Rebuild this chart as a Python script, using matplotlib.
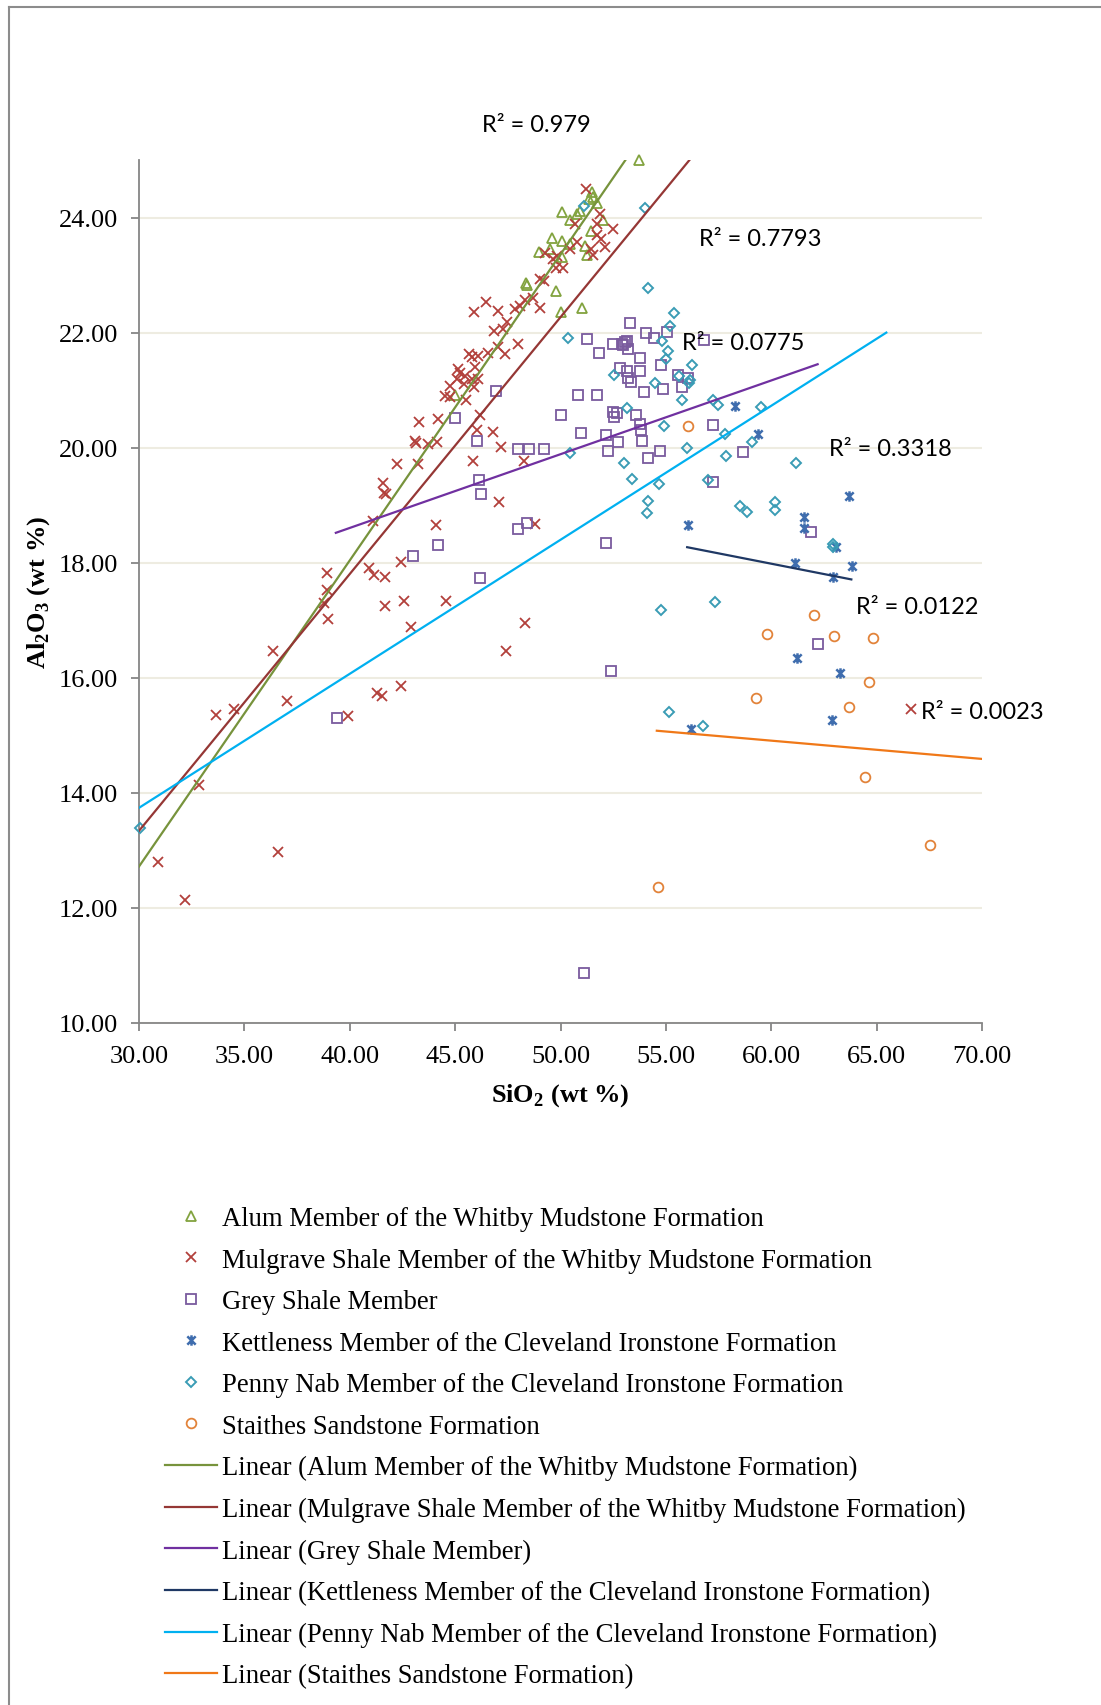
import matplotlib
matplotlib.use("Agg")
import matplotlib.pyplot as plt
from matplotlib.lines import Line2D
from matplotlib.path import Path

plt.rcParams['font.family'] = ['Liberation Serif', 'DejaVu Serif']
plt.rcParams['mathtext.fontset'] = 'custom'
plt.rcParams['mathtext.rm'] = 'Liberation Serif'
plt.rcParams['mathtext.bf'] = 'Liberation Serif:bold'

# ── 데이터 ─────────────────────────────────────────
alum_x = [53.74, 51.48, 51.55, 51.72, 51.36, 50.05, 50.92, 50.77, 50.45, 51.43, 52.0, 49.58, 50.05,
          49.5, 48.99, 50.45, 51.16, 51.24, 50.05, 48.39, 48.35, 49.79, 50.0, 51.02, 45.0]
alum_y = [25.0, 24.44, 24.35, 24.26, 24.32, 24.09, 24.12, 24.07, 23.96, 23.77, 23.95, 23.64, 23.6,
          23.45, 23.4, 23.54, 23.5, 23.35, 23.31, 22.82, 22.86, 22.72, 22.36, 22.42, 20.92]

mulg_x = [51.21, 51.87, 51.72, 52.47, 50.69, 51.72, 51.9, 52.1, 51.55, 51.43, 50.77, 50.45, 49.26,
          49.85, 49.66, 49.79, 50.1, 49.02, 49.2, 48.71, 48.32, 48.08, 47.84, 49.02, 47.05, 46.46,
          45.89, 47.47, 47.28, 46.84, 47.99, 47.05, 45.67, 45.78, 46.1, 46.57, 47.37, 45.94, 45.15,
          45.23, 45.47, 45.07, 45.78, 46.1, 45.42, 45.9, 44.76, 44.52, 44.76, 45.52, 43.3, 44.2,
          43.1, 43.12, 43.73, 44.13, 46.2, 46.02, 46.81, 47.18, 45.86, 48.27, 42.25, 43.25, 41.59,
          41.62, 41.72, 47.07, 41.09, 44.07, 48.79, 42.41, 38.93, 40.91, 41.15, 41.67, 38.93, 38.78,
          41.67, 42.57, 44.57, 38.98, 42.89, 48.32, 47.41, 36.37, 33.64, 34.52, 37.0, 32.86, 30.89,
          32.18, 36.58, 39.94, 41.27, 41.54, 42.45, 66.65]
mulg_y = [24.5, 24.07, 23.89, 23.8, 23.89, 23.69, 23.62, 23.48, 23.35, 23.45, 23.57, 23.45, 23.38,
          23.33, 23.28, 23.12, 23.12, 22.93, 22.9, 22.61, 22.56, 22.47, 22.41, 22.42, 22.38, 22.54,
          22.36, 22.18, 22.06, 22.02, 21.8, 21.75, 21.63, 21.57, 21.6, 21.64, 21.63, 21.41, 21.37,
          21.3, 21.25, 21.19, 21.19, 21.19, 21.11, 21.05, 21.08, 20.9, 20.88, 20.83, 20.45, 20.5,
          20.12, 20.08, 20.06, 20.1, 20.57, 20.31, 20.28, 20.02, 19.76, 19.76, 19.72, 19.72, 19.39,
          19.21, 19.2, 19.05, 18.73, 18.65, 18.67, 18.01, 17.83, 17.9, 17.78, 17.75, 17.53, 17.3,
          17.24, 17.34, 17.34, 17.02, 16.88, 16.95, 16.47, 16.47, 15.36, 15.46, 15.59, 14.14, 12.79,
          12.14, 12.97, 15.33, 15.74, 15.68, 15.85, 15.46]

grey_x = [44.99, 46.94, 46.02, 47.97, 48.51, 49.21, 46.13, 46.21, 47.97, 48.39, 44.17, 42.98, 46.18,
          39.38, 53.3, 51.24, 52.5, 52.9, 53.06, 53.17, 52.98, 53.21, 54.06, 54.45, 55.04, 56.81,
          51.83, 53.77, 52.82, 53.17, 53.77, 54.75, 53.21, 53.33, 55.59, 56.06, 55.75, 53.98, 54.85,
          50.81, 51.71, 50.0, 52.5, 52.69, 52.53, 53.58, 53.77, 53.81, 57.22, 50.97, 52.14, 52.71,
          53.85, 52.27, 54.72, 54.13, 57.22, 58.64, 61.89, 62.2, 52.16, 52.4, 51.13]
grey_y = [20.51, 20.99, 20.11, 19.97, 19.98, 19.97, 19.44, 19.19, 18.59, 18.69, 18.31, 18.12, 17.74,
          15.3, 22.17, 21.89, 21.8, 21.8, 21.83, 21.86, 21.79, 21.72, 21.99, 21.91, 22.01, 21.88,
          21.65, 21.56, 21.39, 21.34, 21.34, 21.43, 21.21, 21.14, 21.26, 21.21, 21.05, 20.97, 21.02,
          20.92, 20.92, 20.56, 20.62, 20.6, 20.53, 20.57, 20.41, 20.31, 20.39, 20.26, 20.22, 20.1,
          20.12, 19.94, 19.95, 19.82, 19.41, 19.92, 18.54, 16.59, 18.34, 16.12, 10.87]

kett_x = [58.28, 59.39, 63.69, 56.03, 61.55, 61.55, 63.07, 61.13, 63.82, 62.91, 61.24, 62.87, 56.18, 63.26]
kett_y = [20.73, 20.24, 19.16, 18.66, 18.79, 18.6, 18.27, 18.0, 17.94, 17.75, 16.34, 15.26, 15.11, 16.08]

penny_x = [30.05, 51.12, 54.01, 54.14, 50.34, 55.38, 55.19, 54.83, 55.09, 54.99, 56.22, 52.54, 54.48,
           55.62, 56.14, 56.11, 55.78, 53.17, 57.25, 57.49, 59.51, 54.93, 57.8, 59.09, 55.98, 50.45,
           57.85, 61.16, 53.01, 53.41, 54.69, 56.98, 54.14, 54.09, 58.54, 58.86, 60.18, 60.18, 62.95,
           62.95, 57.33, 54.77, 55.16, 56.74]
penny_y = [13.39, 24.2, 24.16, 22.78, 21.9, 22.34, 22.12, 21.86, 21.68, 21.54, 21.44, 21.27, 21.12,
           21.25, 21.18, 21.12, 20.82, 20.69, 20.82, 20.74, 20.7, 20.38, 20.23, 20.1, 19.99, 19.91,
           19.85, 19.73, 19.73, 19.46, 19.37, 19.44, 19.07, 18.86, 18.99, 18.89, 19.05, 18.92, 18.33,
           18.28, 17.32, 17.17, 15.41, 15.17]

stai_x = [56.03, 62.04, 59.8, 62.98, 64.81, 64.65, 59.26, 63.7, 64.47, 67.53, 54.61]
stai_y = [20.37, 17.1, 16.76, 16.72, 16.7, 15.93, 15.65, 15.49, 14.28, 13.09, 12.36]

# 추세선 양 끝점
trend_x = [[30.0, 53.12], [30.0, 56.12], [39.34, 62.2], [56.01, 63.8], [30.0, 65.46], [54.57, 70.0]]
trend_y = [[12.72, 25.02], [13.34, 25.0], [18.52, 21.45], [18.27, 17.71], [13.74, 22.0], [15.08, 14.59]]

r2_text = ["R² = 0.979", "R² = 0.7793", "R² = 0.0775", "R² = 0.3318", "R² = 0.0122", "R² = 0.0023"]
r2_x = [48.84, 56.58, 55.75, 62.72, 64.01, 67.11]
r2_y = [25.62, 23.64, 21.83, 19.99, 17.24, 15.42]

names = ["Alum Member of the Whitby Mudstone Formation",
         "Mulgrave Shale Member of the Whitby Mudstone Formation",
         "Grey Shale Member",
         "Kettleness Member of the Cleveland Ironstone Formation",
         "Penny Nab Member of the Cleveland Ironstone Formation",
         "Staithes Sandstone Formation"]

# ── 스타일 ──────────────────────────────────────────────
star = Path([(-1, -1), (1, 1), (-1, 1), (1, -1), (0, -1.25), (0, 1.25)],
            [Path.MOVETO, Path.LINETO, Path.MOVETO, Path.LINETO, Path.MOVETO, Path.LINETO])
mk_colors = ["#82A33F", "#B2403B", "#7A5B9E", "#3F6DAE", "#3A9CB5", "#E2833A"]
markers = ['^', 'x', 's', star, 'D', 'o']
msizes = [7.5, 7, 7, 7.5, 5.5, 7]
mews = [1.3, 1.3, 1.3, 1.8, 1.4, 1.3]
line_colors = ["#77933C", "#953735", "#7030A0", "#1F3864", "#00B0F0", "#F07818"]

fig = plt.figure(figsize=(11.01, 17.06), dpi=100)
ax = fig.add_axes([139 / 1101, 1 - 1024 / 1706, 843 / 1101, 863 / 1706])

series = [(alum_x, alum_y), (mulg_x, mulg_y), (grey_x, grey_y),
          (kett_x, kett_y), (penny_x, penny_y), (stai_x, stai_y)]
handles = []
for (xs, ys), name, c, m, s, w in zip(series, names, mk_colors, markers, msizes, mews):
    h, = ax.plot(xs, ys, linestyle='none', marker=m, ms=s, mfc='none', mec=c, mew=w,
                 clip_on=False, label=name, zorder=3)
    handles.append(h)

for tx, ty, c, name in zip(trend_x, trend_y, line_colors, names):
    h, = ax.plot(tx, ty, color=c, lw=1.6, label=f"Linear ({name})", zorder=4)
    handles.append(h)

for t, x, y in zip(r2_text, r2_x, r2_y):
    ax.text(x, y, t, ha='center' if t == r2_text[0] else 'left', va='center',
            family=['Lato', 'DejaVu Sans'], fontsize=17, clip_on=False, zorder=5)

ax.set_xlim(30, 70)
ax.set_ylim(10, 25)
ax.set_xticks(range(30, 71, 5))
ax.set_yticks(range(10, 25, 2))
ax.set_xticklabels([f"{v:.2f}" for v in range(30, 71, 5)])
ax.set_yticklabels([f"{v:.2f}" for v in range(10, 25, 2)])
ax.tick_params(labelsize=19, color="#868686", length=6, width=1.3)
ax.tick_params(axis='x', pad=10)
ax.tick_params(axis='y', pad=9)
ax.yaxis.grid(True, color="#EEECE1", lw=1.5)
ax.set_axisbelow(True)
for sp in ['top', 'right']:
    ax.spines[sp].set_visible(False)
for sp in ['left', 'bottom']:
    ax.spines[sp].set_color("#868686")
    ax.spines[sp].set_linewidth(1.3)

ax.set_xlabel(r"SiO$_\mathbf{2}$ (wt %)", fontsize=19, fontweight='bold', labelpad=10)
ax.set_ylabel(r"Al$_\mathbf{2}$O$_\mathbf{3}$ (wt %)", fontsize=19, fontweight='bold', labelpad=5)

fig.legend(handles=handles, loc='upper left', bbox_to_anchor=(165 / 1101, 1 - 1207 / 1706),
           frameon=False, fontsize=19.2, handlelength=1.95, handletextpad=0.2,
           labelspacing=0.62, borderpad=0, borderaxespad=0)

# 바깥 테두리 (왼쪽, 위)
fig.add_artist(Line2D([9 / 1101, 9 / 1101], [0, 1 - 8 / 1706], transform=fig.transFigure,
                      color="#8C8C8C", lw=1.5))
fig.add_artist(Line2D([9 / 1101, 1], [1 - 8 / 1706, 1 - 8 / 1706], transform=fig.transFigure,
                      color="#8C8C8C", lw=1.5))

fig.savefig("out.png", dpi=100)
